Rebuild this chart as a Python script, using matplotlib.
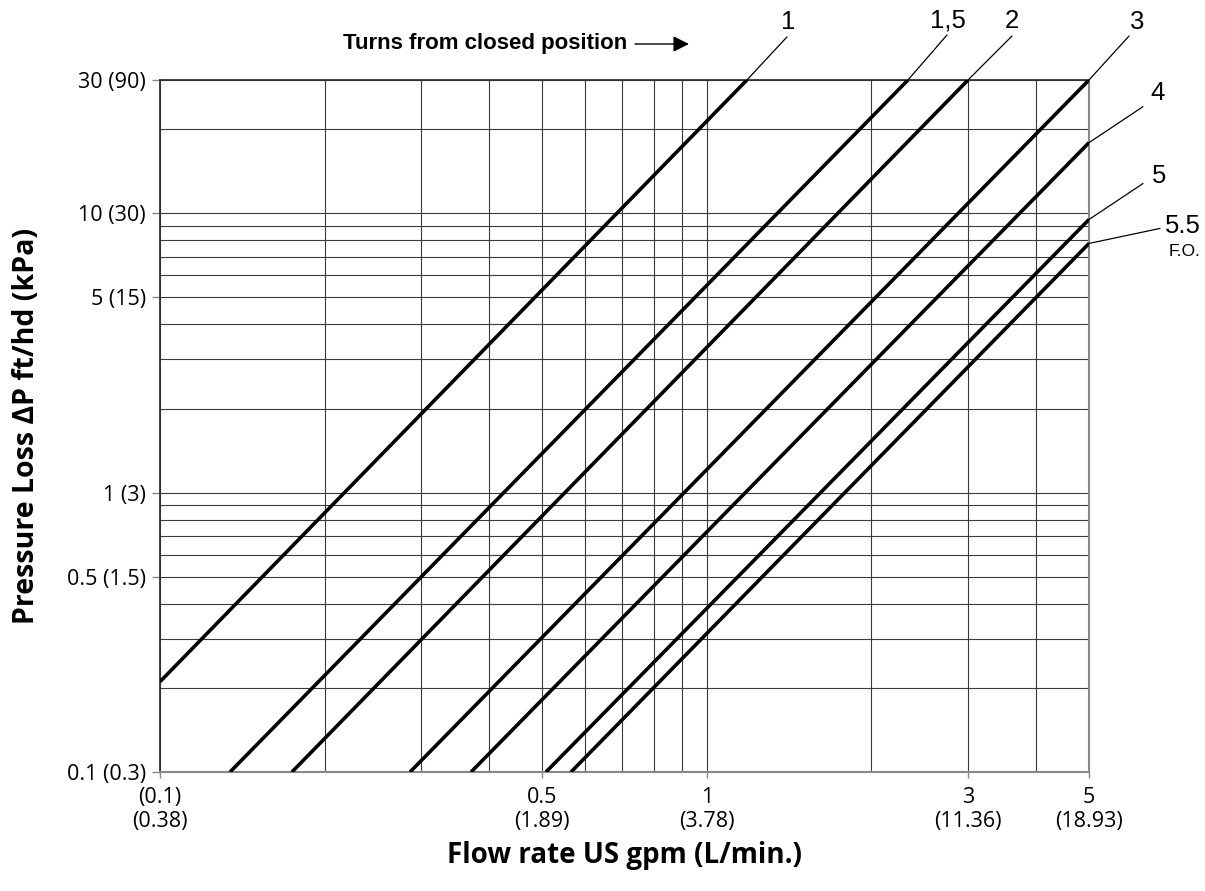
import matplotlib
matplotlib.use("Agg")
import matplotlib.pyplot as plt
from matplotlib.ticker import FixedLocator, NullFormatter

# ---- data (flow US gpm, pressure loss ft/hd) ----
turn_labels = ["1", "1,5", "2", "3", "4", "5", "5.5"]
flow_start = [0.1, 0.1343, 0.1743, 0.2866, 0.3706, 0.508, 0.5645]
dp_start   = [0.2105, 0.1, 0.1, 0.1, 0.1, 0.1, 0.1]
flow_end   = [1.184, 2.333, 3.004, 5.0, 5.0, 5.0, 5.0]
dp_end     = [30.0, 30.0, 30.0, 30.0, 17.9, 9.5, 7.8]

x_ticks = [0.1, 0.5, 1, 3, 5]
x_ticklabels = ["(0.1)\n(0.38)", "0.5\n(1.89)", "1\n(3.78)", "3\n(11.36)", "5\n(18.93)"]
y_ticks = [0.1, 0.5, 1, 5, 10, 30]
y_ticklabels = ["0.1 (0.3)", "0.5 (1.5)", "1 (3)", "5 (15)", "10 (30)", "30 (90)"]
x_grid = [0.1, 0.2, 0.3, 0.4, 0.5, 0.6, 0.7, 0.8, 0.9, 1, 2, 3, 4, 5]
y_grid = [0.1, 0.2, 0.3, 0.4, 0.5, 0.6, 0.7, 0.8, 0.9, 1, 2, 3, 4, 5, 6, 7, 8, 9, 10, 20, 30]

# label placement (pixel offsets from line end) – styling only
leader_off = [(40, 43), (39, 45), (44, 44), (40, 44), (54, 36), (54, 36), (71, 15)]
text_off = [(41, 58), (40, 60), (44, 59), (48, 58), (69, 50), (70, 44), (94, 17)]

W, H = 1205, 891
fig = plt.figure(figsize=(W / 100, H / 100), dpi=100)
ax = fig.add_axes([160 / W, 1 - 772 / H, (1089 - 160) / W, (772 - 80) / H])
ax.set_xscale("log")
ax.set_yscale("log")
ax.set_xlim(0.1, 5)
ax.set_ylim(0.1, 30)

for gx in x_grid:
    ax.axvline(gx, color="#3a3a3a", lw=0.8, zorder=1)
for gy in y_grid:
    ax.axhline(gy, color="#3a3a3a", lw=0.8, zorder=1)

for i in range(len(turn_labels)):
    ax.plot([flow_start[i], flow_end[i]], [dp_start[i], dp_end[i]],
            color="black", lw=2.6, solid_capstyle="butt", zorder=3)
    end = (flow_end[i], dp_end[i])
    ax.annotate("", xy=end, xytext=leader_off[i], textcoords="offset pixels",
                arrowprops=dict(arrowstyle="-", lw=0.9, color="black",
                                shrinkA=0, shrinkB=0),
                annotation_clip=False)
    ax.annotate(turn_labels[i], xy=end, xytext=text_off[i], textcoords="offset pixels",
                ha="center", va="center", fontsize=18.5, family="Liberation Sans",
                annotation_clip=False)
# F.O. under 5.5
ax.annotate("F.O.", xy=(flow_end[6], dp_end[6]), xytext=(96, -8), textcoords="offset pixels",
            ha="center", va="center", fontsize=12.5, family="Liberation Sans",
            annotation_clip=False)

ax.xaxis.set_major_locator(FixedLocator(x_ticks))
ax.set_xticklabels(x_ticklabels, family="Open Sans", fontsize=15.5, linespacing=1.2)
ax.xaxis.set_minor_formatter(NullFormatter())
ax.xaxis.set_minor_locator(FixedLocator([]))
ax.yaxis.set_major_locator(FixedLocator(y_ticks))
ax.set_yticklabels(y_ticklabels, family="Open Sans", fontsize=15.5)
ax.yaxis.set_minor_formatter(NullFormatter())
ax.yaxis.set_minor_locator(FixedLocator([]))
ax.tick_params(axis="x", direction="out", length=4, width=1, color="#888888", pad=7)
ax.tick_params(axis="y", direction="out", length=6, width=1, color="#888888", pad=4)

for side in ["left", "top"]:
    ax.spines[side].set_color("#333333")
    ax.spines[side].set_linewidth(1.3)
for side in ["bottom", "right"]:
    ax.spines[side].set_color("#888888")
    ax.spines[side].set_linewidth(1.5)

ax.set_xlabel("Flow rate US gpm (L/min.)", family="Open Sans", fontweight="bold",
              fontsize=20, labelpad=6)
ax.set_ylabel("Pressure Loss \u0394P ft/hd (kPa)", family="Open Sans", fontweight="bold",
              fontsize=20.5, labelpad=19)

fig.text(627 / W, 1 - 44 / H, "Turns from closed position", ha="right", va="center",
         family="Liberation Sans", fontweight="bold", fontsize=16)
fig.add_artist(matplotlib.patches.FancyArrowPatch(
    (635 / W, 1 - 44 / H), (689 / W, 1 - 44 / H), transform=fig.transFigure,
    arrowstyle="-|>,head_length=6,head_width=3", lw=1.0, color="black",
    shrinkA=0, shrinkB=0, mutation_scale=1.6))

fig.savefig("out.png", dpi=100, facecolor="white")
